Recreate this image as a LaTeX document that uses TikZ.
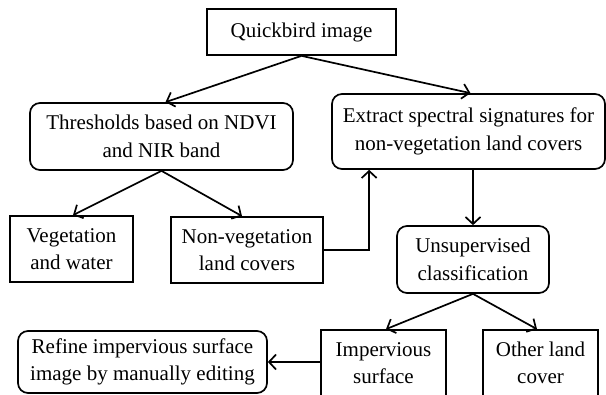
\documentclass[tikz,border=0pt]{standalone}
\usepackage{fontspec}
\setmainfont{Liberation Serif}
\usetikzlibrary{arrows.meta}
\tikzset{
  box/.style={draw, line width=1.7pt, align=center, inner sep=0pt,
    font=\fontsize{21}{27.5}\selectfont},
  rbox/.style={box, rounded corners=10pt},
  arr/.style={line width=1.7pt, -{Straight Barb[length=7pt,width=15pt,line width=1.7pt]}}
}
\begin{document}
\begin{tikzpicture}[x=1pt,y=-1pt]
\useasboundingbox (0,0) rectangle (606,395);
\node[box, minimum width=189pt, minimum height=46pt] (qb) at (301.5,32) {Quickbird image};
\node[rbox, minimum width=263pt, minimum height=67pt] (thr) at (161.5,136.5) {Thresholds based on NDVI\\and NIR band};
\node[rbox, minimum width=273pt, minimum height=75pt] (ext) at (468.5,131.5) {Extract spectral signatures for\\non-vegetation land covers};
\node[box, minimum width=123pt, minimum height=66pt] (veg) at (71.5,249) {Vegetation\\and water};
\node[box, minimum width=152pt, minimum height=66pt] (nonveg) at (247,250) {Non-vegetation\\land covers};
\node[rbox, minimum width=152pt, minimum height=67pt] (unsup) at (473,259.5) {Unsupervised\\classification};
\node[rbox, minimum width=249pt, minimum height=62pt] (refine) at (142.5,362) {Refine impervious surface\\image by manually editing};
\node[box, minimum width=125pt, minimum height=66pt] (imperv) at (383.5,363) {Impervious\\surface};
\node[box, minimum width=115pt, minimum height=66pt] (other) at (540.5,363) {Other land\\cover};

\draw[arr] (qb.south) -- ([xshift=4pt]thr.north);
\draw[arr] (qb.south) -- ([xshift=2pt]ext.north);
\draw[arr] (thr.south) -- ([xshift=1.5pt]veg.north);
\draw[arr] (thr.south) -- ([xshift=-5pt]nonveg.north);
\draw[arr] (nonveg.east) -| ([xshift=38pt]ext.south west);
\draw[arr] (unsup.north |- ext.south) -- (unsup.north);
\draw[arr] (unsup.south) -- ([xshift=2.5pt]imperv.north);
\draw[arr] (unsup.south) -- ([xshift=-3.5pt]other.north);
\draw[arr] (refine.east -| imperv.west) -- (refine.east);
\end{tikzpicture}
\end{document}
